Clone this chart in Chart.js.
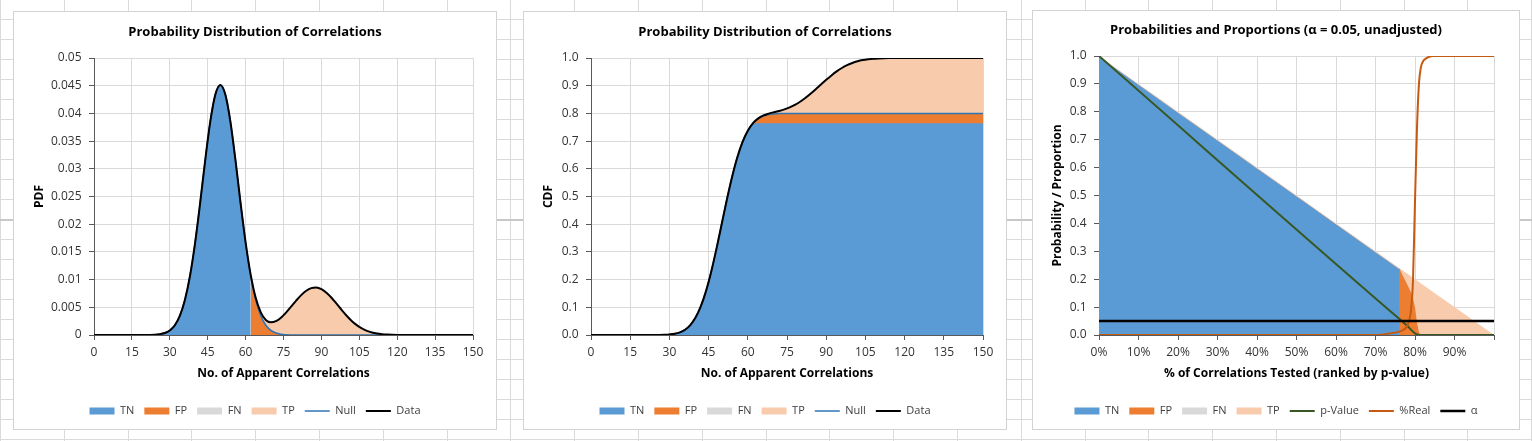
<!DOCTYPE html>
<html>
<head>
<meta charset="utf-8">
<script src="https://cdn.jsdelivr.net/npm/chart.js@4.4.1/dist/chart.umd.min.js"></script>
<style>
  html, body { margin:0; padding:0; background:#fff; }
  body { width:1532px; height:441px; position:relative; overflow:hidden; }
  #sheet { position:absolute; left:0; top:0; }
  .panel { position:absolute; background:#fff; box-shadow: inset 0 0 0 1px #d3d3d3; }
  .panel canvas { position:absolute; left:0; top:0; }
</style>
</head>
<body>
<canvas id="sheet" width="1532" height="441"></canvas>
<div class="panel" style="left:13px;top:11px;width:484px;height:419px"><canvas id="c1" width="484" height="419"></canvas></div>
<div class="panel" style="left:523px;top:11px;width:484px;height:419px"><canvas id="c2" width="484" height="419"></canvas></div>
<div class="panel" style="left:1032px;top:10px;width:488px;height:420px"><canvas id="c3" width="488" height="420"></canvas></div>
<script>
// ---------------- DATA ----------------
// No. of apparent correlations (x) for the PDF / CDF panels
const counts = [0,10,20,22,24,26,28,30,32,34,36,38,40,42,44,46,48,50,52,54,56,58,60,62,64,66,68,70,72,74,76,78,80,
  82,84,86,88,90,92,94,96,98,100,102,104,106,108,110,112,114,116,118,120,130,140,150];
// critical count separating negatives from positives
const threshold = 62;

// PDF of the null (no real correlations) part and of the real-correlation part
const nullPdf = [0,0,0.000006,0.000018,0.000052,0.000142,0.000356,0.000827,0.001766,0.003487,0.006356,0.010693,0.016601,
  0.0238,0.031488,0.038463,0.04337,0.04514,0.04337,0.038463,0.031488,0.0238,0.016601,0.010693,0.006356,0.003487,0.001766,
  0.000827,0.000356,0.000142,0.000052,0.000018,0.000006,
  0,0,0,0,0,0,0,0,0,0,0,0,0,0,0,0,0,0,0,0,0,0,0];
const realPdf = [0,0,0,0,0,0,0,0,0,0,0,0,0,0,0,0,0,
  0.000003,0.000006,0.000013,0.000028,0.000056,0.000108,0.0002,0.000352,0.000593,0.000952,0.00146,0.002139,0.00299,
  0.003993,0.005091,0.006197,0.007203,0.007993,0.008469,0.008567,0.008275,0.007631,0.00672,0.00565,0.004536,0.003477,
  0.002544,0.001778,0.001186,0.000756,0.00046,0.000267,0.000148,0.000078,0.00004,0.000019,0,0,0];

// CDF of the null part and of the real part
const nullCdf = [0,0,0.000009,0.00003,0.000094,0.000274,0.000743,0.00187,0.00436,0.00946,0.01908,0.03588,0.06292,0.10314,
  0.15842,0.22861,0.3109,0.4,0.4891,0.57139,0.64158,0.69686,0.73708,0.76412,0.78092,0.79054,0.79564,0.79813,0.79926,
  0.79973,0.79991,0.79997,0.79999,
  0.8,0.8,0.8,0.8,0.8,0.8,0.8,0.8,0.8,0.8,0.8,0.8,0.8,0.8,0.8,0.8,0.8,0.8,0.8,0.8,0.8,0.8,0.8];
const realCdf = [0,0,0,0,0,0,0,0,0,0,0,0,0,0,0,0,0,
  0.000006,0.000014,0.000032,0.000071,0.000151,0.000311,0.000611,0.00115,0.00208,0.0036,0.00598,0.00955,0.01465,
  0.02161,0.03068,0.042,0.05543,0.07067,0.08719,0.10429,0.12119,0.13715,0.15154,0.16393,0.17411,0.18211,0.1881,
  0.1924,0.19533,0.19725,0.19845,0.19916,0.19956,0.19978,0.1999,0.19995,0.2,0.2,0.2];

// Panel 3: share of correlations tested (ranked by p-value) and stacked proportions
const ranked = [0,0.1,0.2,0.3,0.4,0.5,0.6,0.7,0.76,0.76,0.765,0.77,0.775,0.78,0.785,0.79,0.795,0.8,0.805,0.81,0.815,0.82,0.85,0.9,0.95,1.0];
const propTN = [0.996,0.896,0.796,0.696,0.596,0.496,0.396,0.296,0.236,0,0,0,0,0,0,0,0,0,0,0,0,0,0,0,0,0];
const propFP = [0,0,0,0,0,0,0,0,0,0.24,0.225,0.21,0.196,0.182,0.168,0.152,0.13,0.1,0.045,0.01,0,0,0,0,0,0];
const propFN = [0.004,0.004,0.004,0.004,0.004,0.004,0.004,0.004,0.004,0,0,0,0,0,0,0,0,0,0,0,0,0,0,0,0,0];
const propTP = [0,0,0,0,0,0,0,0,0,0,0.01,0.02,0.029,0.038,0.047,0.058,0.075,0.1,0.15,0.18,0.185,0.18,0.15,0.1,0.05,0];

const pValueX = [0,0.76,0.77,0.78,0.79,0.795,0.8,0.805,0.81,1.0];
const pValueY = [1.0,0.058,0.046,0.033,0.019,0.012,0.006,0.002,0,0];
const pctRealX = [0,0.7,0.72,0.74,0.76,0.77,0.78,0.785,0.79,0.795,0.8,0.805,0.81,0.815,0.82,0.83,0.845,1.0];
const pctRealY = [0,0,0.002,0.006,0.012,0.018,0.032,0.05,0.09,0.2,0.48,0.74,0.9,0.96,0.98,0.993,1.0,1.0];
const alphaX = [0,1];
const alphaY = [0.05,0.05];

// ---------------- BACKGROUND (spreadsheet cells) ----------------
(function(){
  const g = document.getElementById('sheet').getContext('2d');
  g.fillStyle = '#fff'; g.fillRect(0,0,1532,441);
  g.strokeStyle = '#dadada'; g.lineWidth = 1;
  for (let k = 0; k * 63.8 < 1540; k++) {
    const x = Math.round(k * 63.8) + 0.5;
    g.beginPath(); g.moveTo(x, 0); g.lineTo(x, 441); g.stroke();
  }
  for (let y = 19.5; y < 441; y += 20) {
    g.beginPath(); g.moveTo(0, y); g.lineTo(1532, y); g.stroke();
  }
  g.fillStyle = '#c8c8c8'; g.fillRect(0, 219, 1532, 2);
})();

// ---------------- CHARTS ----------------
const FONT = '"Open Sans", Lato, sans-serif';
Chart.defaults.font.family = FONT;
Chart.defaults.color = '#404040';
const COL = { tn:'#5B9BD5', fp:'#ED7D31', fn:'#D9D9D9', tp:'#F8CBAD', nul:'#2E75B6', data:'#000000',
  pval:'#385723', real:'#C55A11', alpha:'#000000' };

function pts(xArr, yFn, keep) {
  const out = [];
  xArr.forEach((x, i) => { if (!keep || keep(x)) out.push({ x: x, y: yFn(i) }); });
  return out;
}
function area(label, data, color, order, extra) {
  return Object.assign({ label, data, backgroundColor: color, borderColor: color, borderWidth: 0, fill: 'origin',
    pointRadius: 0, pointHoverRadius: 0, pointBorderWidth: 0, pointStyle: 'rect', order }, extra || {});
}
function line(label, data, color, width, order, extra) {
  return Object.assign({ label, data, borderColor: color, backgroundColor: color, borderWidth: width, fill: false,
    pointRadius: 0, pointHoverRadius: 0, pointBorderWidth: width, pointStyle: 'line', order }, extra || {});
}
function options(o) {
  const tickFont = { family: FONT, size: 12 };
  const titleFont = { family: FONT, size: 12, weight: 'bold' };
  const grid = { color: '#d9d9d9', lineWidth: 1, tickColor: '#595959', tickLength: 5, drawTicks: true };
  return {
    responsive: false, animation: false, devicePixelRatio: 1, events: [],
    layout: { padding: { left: 10, right: 10, top: o.padTop, bottom: 3.5 } },
    plugins: {
      title: { display: true, text: o.title, color: '#000', font: { family: FONT, size: 13, weight: 'bold' },
        padding: { top: 0, bottom: 18.4 } },
      legend: { position: 'bottom', labels: { usePointStyle: true, pointStyleWidth: 25, boxHeight: 7, padding: 10,
        color: '#404040', font: { family: FONT, size: 11 }, sort: (a, b) => a.datasetIndex - b.datasetIndex } },
      tooltip: { enabled: false }
    },
    scales: {
      x: { type: 'linear', min: o.xMin, max: o.xMax, afterFit: s => { s.height = 60.5; },
        ticks: { stepSize: o.xStep, padding: 5.5, font: tickFont, color: '#333', maxRotation: 0, autoSkip: false, callback: o.xFmt },
        grid: grid, border: { color: '#595959', width: 1 },
        title: { display: true, text: o.xTitle, font: titleFont, color: '#000', padding: { top: 0, bottom: 14.8 } } },
      y: { type: 'linear', min: 0, max: o.yMax, afterFit: s => { s.width = o.yWidth; },
        ticks: { stepSize: o.yStep, padding: 7.5, font: tickFont, color: '#333', callback: o.yFmt },
        grid: grid, border: { color: '#595959', width: 1 },
        title: { display: true, text: o.yTitle, font: titleFont, color: '#000', padding: { top: o.yTitlePad, bottom: 0 } } },
      y2: { type: 'linear', position: 'right', display: true, grid: { display: false, drawTicks: false },
        border: { display: false }, ticks: { display: false }, afterFit: s => { s.width = o.rightWidth; } }
    }
  };
}

const smooth = { cubicInterpolationMode: 'monotone' };
const totalPdf = counts.map((x, i) => nullPdf[i] + realPdf[i]);
const totalCdf = counts.map((x, i) => nullCdf[i] + realCdf[i]);
const iT = counts.indexOf(threshold);
const plateau = nullCdf[iT];
const below = x => x <= threshold, above = x => x >= threshold;

// Panel 1: PDF
new Chart(document.getElementById('c1'), {
  type: 'line',
  data: { datasets: [
    area('TN', pts(counts, i => nullPdf[i], below), COL.tn, 2, smooth),
    area('FP', pts(counts, i => nullPdf[i], above), COL.fp, 2, smooth),
    area('FN', pts(counts, i => totalPdf[i], below), COL.fn, 3, smooth),
    area('TP', pts(counts, i => totalPdf[i], above), COL.tp, 3, smooth),
    line('Null', pts(counts, i => nullPdf[i]), COL.nul, 1.5, 1, smooth),
    line('Data', pts(counts, i => totalPdf[i]), COL.data, 2, 0, smooth)
  ] },
  options: options({ title: 'Probability Distribution of Correlations', padTop: 13,
    xMin: 0, xMax: 150, xStep: 15, xTitle: 'No. of Apparent Correlations', xFmt: v => String(v),
    yMax: 0.05, yStep: 0.005, yTitle: 'PDF', yFmt: v => String(+v.toFixed(3)),
    yWidth: 71, yTitlePad: 9.3, rightWidth: 14 })
});

// Panel 2: CDF
new Chart(document.getElementById('c2'), {
  type: 'line',
  data: { datasets: [
    area('TN', pts(counts, i => Math.min(nullCdf[i], plateau)), COL.tn, 2, smooth),
    area('FP', pts(counts, i => nullCdf[i], above), COL.fp, 3, smooth),
    area('FN', pts(counts, i => totalCdf[i], below), COL.fn, 3, smooth),
    area('TP', pts(counts, i => totalCdf[i], above), COL.tp, 4, smooth),
    line('Null', pts(counts, i => nullCdf[i]), COL.nul, 1.5, 1, smooth),
    line('Data', pts(counts, i => totalCdf[i]), COL.data, 2, 0, smooth)
  ] },
  options: options({ title: 'Probability Distribution of Correlations', padTop: 13,
    xMin: 0, xMax: 150, xStep: 15, xTitle: 'No. of Apparent Correlations', xFmt: v => String(v),
    yMax: 1, yStep: 0.1, yTitle: 'CDF', yFmt: v => v.toFixed(1),
    yWidth: 58, yTitlePad: 8.8, rightWidth: 14 })
});

// Panel 3: probabilities and proportions (stacked in the order TN, FP, FN, TP)
const cumTN = propTN.slice();
const cumFP = propTN.map((v, i) => v + propFP[i]);
const cumFN = cumFP.map((v, i) => v + propFN[i]);
const cumTP = cumFN.map((v, i) => v + propTP[i]);
new Chart(document.getElementById('c3'), {
  type: 'line',
  data: { datasets: [
    area('TN', pts(ranked, i => cumTN[i]), COL.tn, 3),
    area('FP', pts(ranked, i => cumFP[i]), COL.fp, 4),
    area('FN', pts(ranked, i => cumFN[i]), COL.fn, 5),
    area('TP', pts(ranked, i => cumTP[i]), COL.tp, 6),
    line('p-Value', pts(pValueX, i => pValueY[i]), COL.pval, 2, 2, smooth),
    line('%Real', pts(pctRealX, i => pctRealY[i]), COL.real, 2, 1, smooth),
    line('\u03B1', pts(alphaX, i => alphaY[i]), COL.alpha, 2.5, 0)
  ] },
  options: options({ title: 'Probabilities and Proportions (\u03B1 = 0.05, unadjusted)', padTop: 12,
    xMin: 0, xMax: 1, xStep: 0.1, xTitle: '% of Correlations Tested (ranked by p-value)',
    xFmt: v => (v > 0.999 ? '' : Math.round(v * 100) + '%'),
    yMax: 1, yStep: 0.1, yTitle: 'Probability / Proportion', yFmt: v => v.toFixed(1),
    yWidth: 57, yTitlePad: 8.8, rightWidth: 16 })
});
</script>
</body>
</html>
